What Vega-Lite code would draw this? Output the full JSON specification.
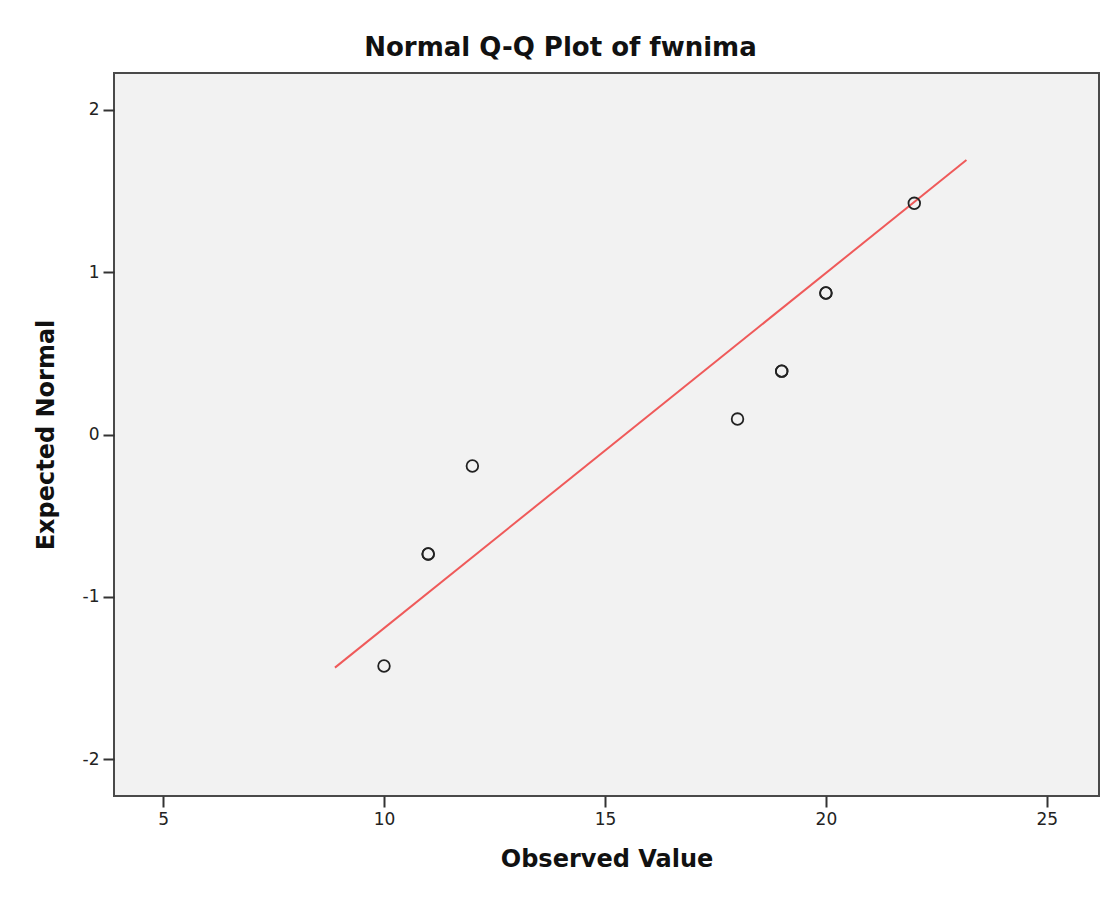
{
  "$schema": "https://vega.github.io/schema/vega-lite/v6.json",
  "width": 985,
  "height": 723,
  "autosize": "none",
  "padding": {"left": 114, "top": 73, "right": 4, "bottom": 105},
  "background": "white",
  "title": {
    "text": "Normal Q-Q Plot of fwnima",
    "font": "DejaVu Sans",
    "fontSize": 26,
    "fontWeight": "bold",
    "color": "#111",
    "anchor": "middle",
    "dx": -46,
    "offset": 12
  },
  "config": {
    "view": {"fill": "#f2f2f2", "stroke": "#4a4a4a", "strokeWidth": 2},
    "axis": {
      "domain": false,
      "grid": false,
      "tickColor": "#333",
      "tickSize": 11,
      "tickWidth": 2,
      "labelFont": "DejaVu Sans",
      "labelFontSize": 17,
      "labelColor": "#222",
      "labelPadding": 4,
      "titleFont": "DejaVu Sans",
      "titleFontSize": 24,
      "titleFontWeight": "bold",
      "titleColor": "#111"
    }
  },
  "datasets": {
    "points": [
      {"observed": 10, "expected": -1.425},
      {"observed": 11, "expected": -0.735},
      {"observed": 11, "expected": -0.735},
      {"observed": 12, "expected": -0.194},
      {"observed": 18, "expected": 0.095},
      {"observed": 19, "expected": 0.39},
      {"observed": 19, "expected": 0.39},
      {"observed": 20, "expected": 0.871},
      {"observed": 20, "expected": 0.871},
      {"observed": 22, "expected": 1.423}
    ],
    "fit": [
      {"observed": 8.89, "expected": -1.435},
      {"observed": 23.18, "expected": 1.689}
    ]
  },
  "layer": [
    {
      "data": {"name": "fit"},
      "mark": {"type": "line", "color": "#ef5a5a", "strokeWidth": 2},
      "encoding": {
        "x": {"field": "observed", "type": "quantitative"},
        "y": {"field": "expected", "type": "quantitative"}
      }
    },
    {
      "data": {"name": "points"},
      "mark": {"type": "point", "shape": "circle", "filled": false, "color": "#222", "size": 135, "strokeWidth": 1.8, "opacity": 1},
      "encoding": {
        "x": {
          "field": "observed",
          "type": "quantitative",
          "scale": {"domain": [3.89, 26.18], "nice": false, "zero": false},
          "axis": {"values": [5, 10, 15, 20, 25], "labelExpr": "datum.value + ''", "title": "Observed Value", "titlePadding": 20}
        },
        "y": {
          "field": "expected",
          "type": "quantitative",
          "scale": {"domain": [-2.225, 2.225], "nice": false, "zero": false},
          "axis": {"values": [-2, -1, 0, 1, 2], "labelExpr": "datum.value + ''", "title": "Expected Normal", "titlePadding": 24}
        }
      }
    }
  ]
}
